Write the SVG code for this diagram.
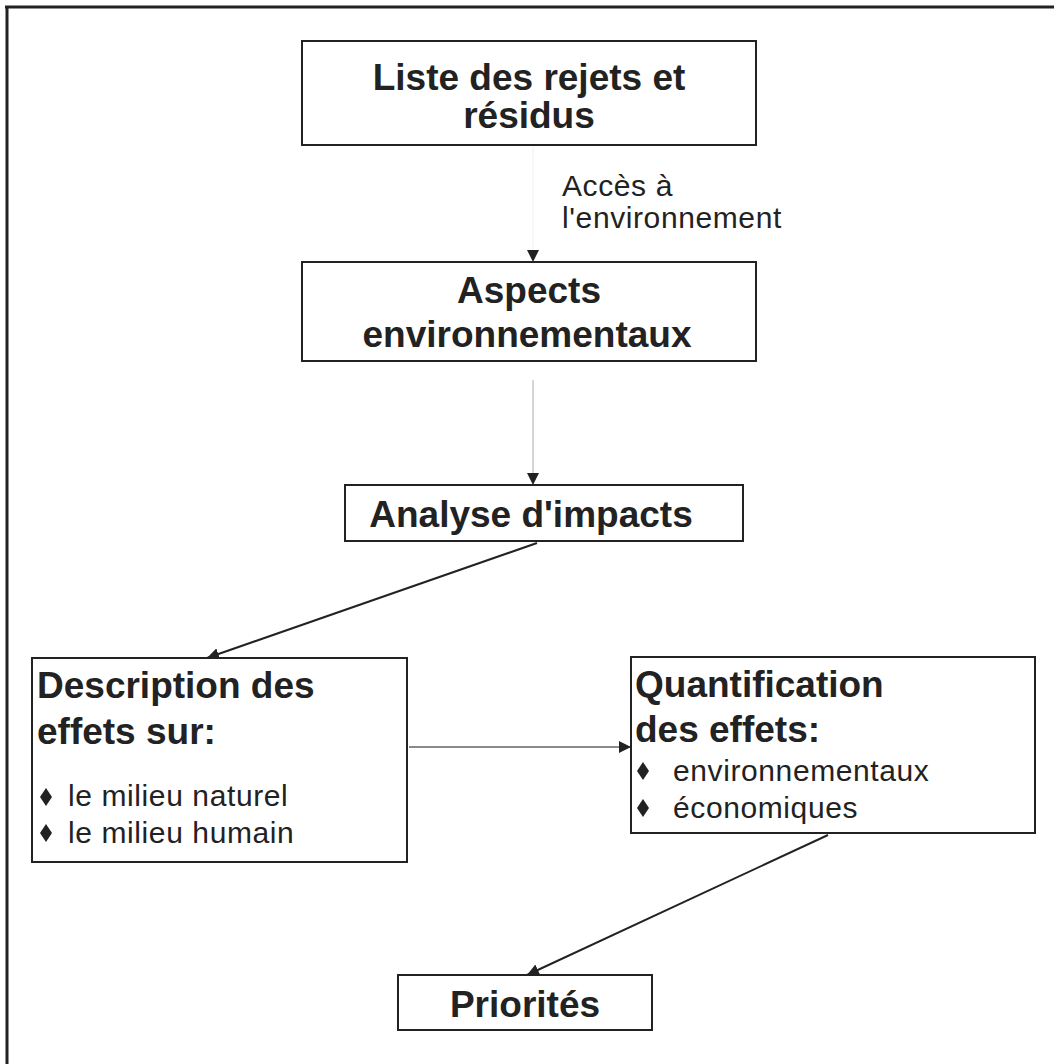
<svg xmlns="http://www.w3.org/2000/svg" width="1054" height="1064" viewBox="0 0 1054 1064">
<style>
.box{fill:#fff;stroke:#222;stroke-width:2}
.b{font-family:"Liberation Sans",Arial,sans-serif;font-weight:bold;font-size:37px;fill:#222}
.r{font-family:"Liberation Sans",Arial,sans-serif;font-size:30px;fill:#222;letter-spacing:0.6px}
.c{fill:none;stroke-width:2}
.bul{fill:#222}
</style>
<defs>
<marker id="ah" markerUnits="userSpaceOnUse" markerWidth="12" markerHeight="12" refX="10" refY="5" orient="auto" viewBox="0 0 10 10">
<path d="M0,0 L10,5 L0,10 z" fill="#222"/>
</marker>
</defs>
<rect width="1054" height="1064" fill="#fff"/>
<g id="frame">
<line x1="5" y1="7" x2="1054" y2="7" stroke="#222" stroke-width="3"/>
<line x1="7" y1="6" x2="7" y2="1064" stroke="#222" stroke-width="3"/>
</g>
<g id="connectors">
<line class="c" x1="533" y1="146" x2="533" y2="262" stroke="#f8f8f8" stroke-width="1" marker-end="url(#ah)"/>
<line class="c" x1="533" y1="380" x2="533" y2="485" stroke="#d6d6d6" marker-end="url(#ah)"/>
<line class="c" x1="537" y1="543" x2="207" y2="658" stroke="#222" marker-end="url(#ah)"/>
<line class="c" x1="409" y1="747" x2="631" y2="747" stroke="#8a8a8a" marker-end="url(#ah)"/>
<line class="c" x1="828" y1="835" x2="527" y2="975" stroke="#222" marker-end="url(#ah)"/>
<text class="r" x="562" y="196">Accès à</text>
<text class="r" x="562" y="228">l'environnement</text>
</g>
<g id="liste">
<rect class="box" x="302" y="41" width="454" height="104"/>
<text class="b" x="529" y="90" text-anchor="middle">Liste des rejets et</text>
<text class="b" x="529" y="128" text-anchor="middle">résidus</text>
</g>
<g id="aspects">
<rect class="box" x="302" y="262" width="454" height="99"/>
<text class="b" x="529" y="303" text-anchor="middle">Aspects</text>
<text class="b" x="527" y="347" text-anchor="middle">environnementaux</text>
</g>
<g id="analyse">
<rect class="box" x="345" y="485" width="398" height="56"/>
<text class="b" x="531" y="527" text-anchor="middle">Analyse d'impacts</text>
</g>
<g id="description">
<rect class="box" x="32" y="658" width="375" height="204"/>
<text class="b" x="37" y="698">Description des</text>
<text class="b" x="37" y="744">effets sur:</text>
<polygon class="bul" points="46,788 52,797 46,806 40,797"/>
<text class="r" x="68" y="806">le milieu naturel</text>
<polygon class="bul" points="46,824 52,833 46,842 40,833"/>
<text class="r" x="68" y="843">le milieu humain</text>
</g>
<g id="quantification">
<rect class="box" x="631" y="657" width="404" height="176"/>
<text class="b" x="635" y="697">Quantification</text>
<text class="b" x="635" y="742">des effets:</text>
<polygon class="bul" points="643,762 649,771 643,780 637,771"/>
<text class="r" x="673" y="781">environnementaux</text>
<polygon class="bul" points="643,799 649,808 643,817 637,808"/>
<text class="r" x="673" y="818">économiques</text>
</g>
<g id="priorites">
<rect class="box" x="398" y="975" width="254" height="55"/>
<text class="b" x="525" y="1017" text-anchor="middle">Priorités</text>
</g>
</svg>
